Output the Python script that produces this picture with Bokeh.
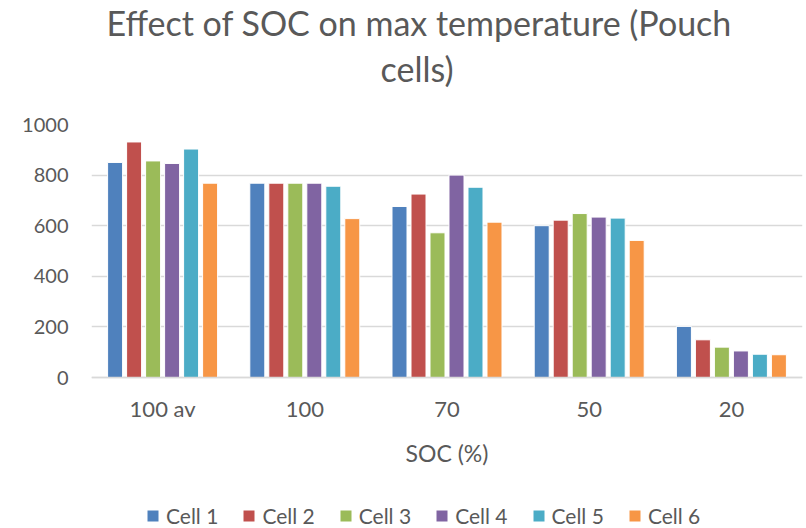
from bokeh.plotting import figure
from bokeh.models import (FactorRange, Range1d, FixedTicker, Legend, LegendItem,
                          Title, ColumnDataSource)
from bokeh.transform import dodge
from bokeh.embed import file_html
from bokeh.resources import INLINE

# ---- data ----
soc = ["100 av", "100", "70", "50", "20"]
cell1 = [850, 768, 676, 600, 202]
cell2 = [931, 768, 725, 622, 149]
cell3 = [856, 768, 572, 648, 120]
cell4 = [846, 768, 800, 634, 105]
cell5 = [903, 756, 752, 630, 92]
cell6 = [768, 628, 614, 542, 90]
series_names = ["Cell 1", "Cell 2", "Cell 3", "Cell 4", "Cell 5", "Cell 6"]
y_ticks = [0, 200, 400, 600, 800, 1000]

colors = ["#4F81BD", "#C0504D", "#9BBB59", "#8064A2", "#4BACC6", "#F79646"]
TXT = "#595959"
FONT = "Lato"

source = ColumnDataSource(dict(soc=soc, c1=cell1, c2=cell2, c3=cell3,
                               c4=cell4, c5=cell5, c6=cell6))
cols = ["c1", "c2", "c3", "c4", "c5", "c6"]

# plot area runs to the bottom of the canvas; value 0 sits 151 px above it,
# leaving room under the x axis for its labels and the legend
p = figure(width=806, height=528, x_range=FactorRange(*soc), y_range=Range1d(-596.8, 1000),
           output_backend="svg", toolbar_location=None,
           min_border_left=91, min_border_right=4, min_border_top=124, min_border_bottom=0)
p.outline_line_color = None
p.background_fill_color = "white"

step = 0.1336
bw = 0.1055
renderers = []
for i, (c, col) in enumerate(zip(cols, colors)):
    r = p.vbar(x=dodge("soc", (i - 2.5) * step, range=p.x_range), top=c, bottom=0, width=bw,
               source=source, fill_color=col, line_color="white", line_width=1)
    renderers.append(r)

# axes
p.yaxis.ticker = FixedTicker(ticks=y_ticks)
p.yaxis.axis_line_color = None
p.yaxis.major_tick_line_color = None
p.yaxis.minor_tick_line_color = None
p.yaxis.major_tick_out = 0
p.yaxis.major_label_standoff = 23
p.yaxis.major_label_text_font = FONT
p.yaxis.major_label_text_font_size = "20px"
p.yaxis.major_label_text_color = TXT

p.xaxis.fixed_location = 0
p.xaxis.axis_line_color = "#D9D9D9"
p.xaxis.axis_line_width = 1.5
p.xaxis.major_tick_line_color = None
p.xaxis.minor_tick_line_color = None
p.xaxis.major_tick_out = 0
p.xaxis.major_label_standoff = 17
p.xaxis.major_label_text_font = FONT
p.xaxis.major_label_text_font_size = "22px"
p.xaxis.major_label_text_color = TXT
p.xaxis.axis_label = "SOC (%)"
p.xaxis.axis_label_standoff = 14
p.xaxis.axis_label_text_font = FONT
p.xaxis.axis_label_text_font_size = "23px"
p.xaxis.axis_label_text_font_style = "normal"
p.xaxis.axis_label_text_color = TXT

p.xgrid.grid_line_color = None
p.ygrid.grid_line_color = "#D9D9D9"
p.ygrid.grid_line_width = 1.5

# chart title (two lines)
p.add_layout(Title(text="cells)", align="left", offset=289, standoff=72, text_font=FONT,
                   text_font_size="34px", text_color=TXT, text_font_style="normal"), "above")
p.add_layout(Title(text="Effect of SOC on max temperature (Pouch", align="left", offset=15,
                   standoff=-66, text_font=FONT, text_font_size="34px", text_color=TXT,
                   text_font_style="normal"), "above")

legend = Legend(items=[LegendItem(label=n, renderers=[r]) for n, r in zip(series_names, renderers)],
                orientation="horizontal", location=(54, 0),
                glyph_width=15, glyph_height=15, label_standoff=6, spacing=23,
                label_height=20, padding=0, margin=0,
                border_line_color=None, background_fill_alpha=0,
                label_text_font=FONT, label_text_font_size="21px", label_text_color=TXT)
p.add_layout(legend)

open("out.html", "w").write(file_html(p, INLINE))
